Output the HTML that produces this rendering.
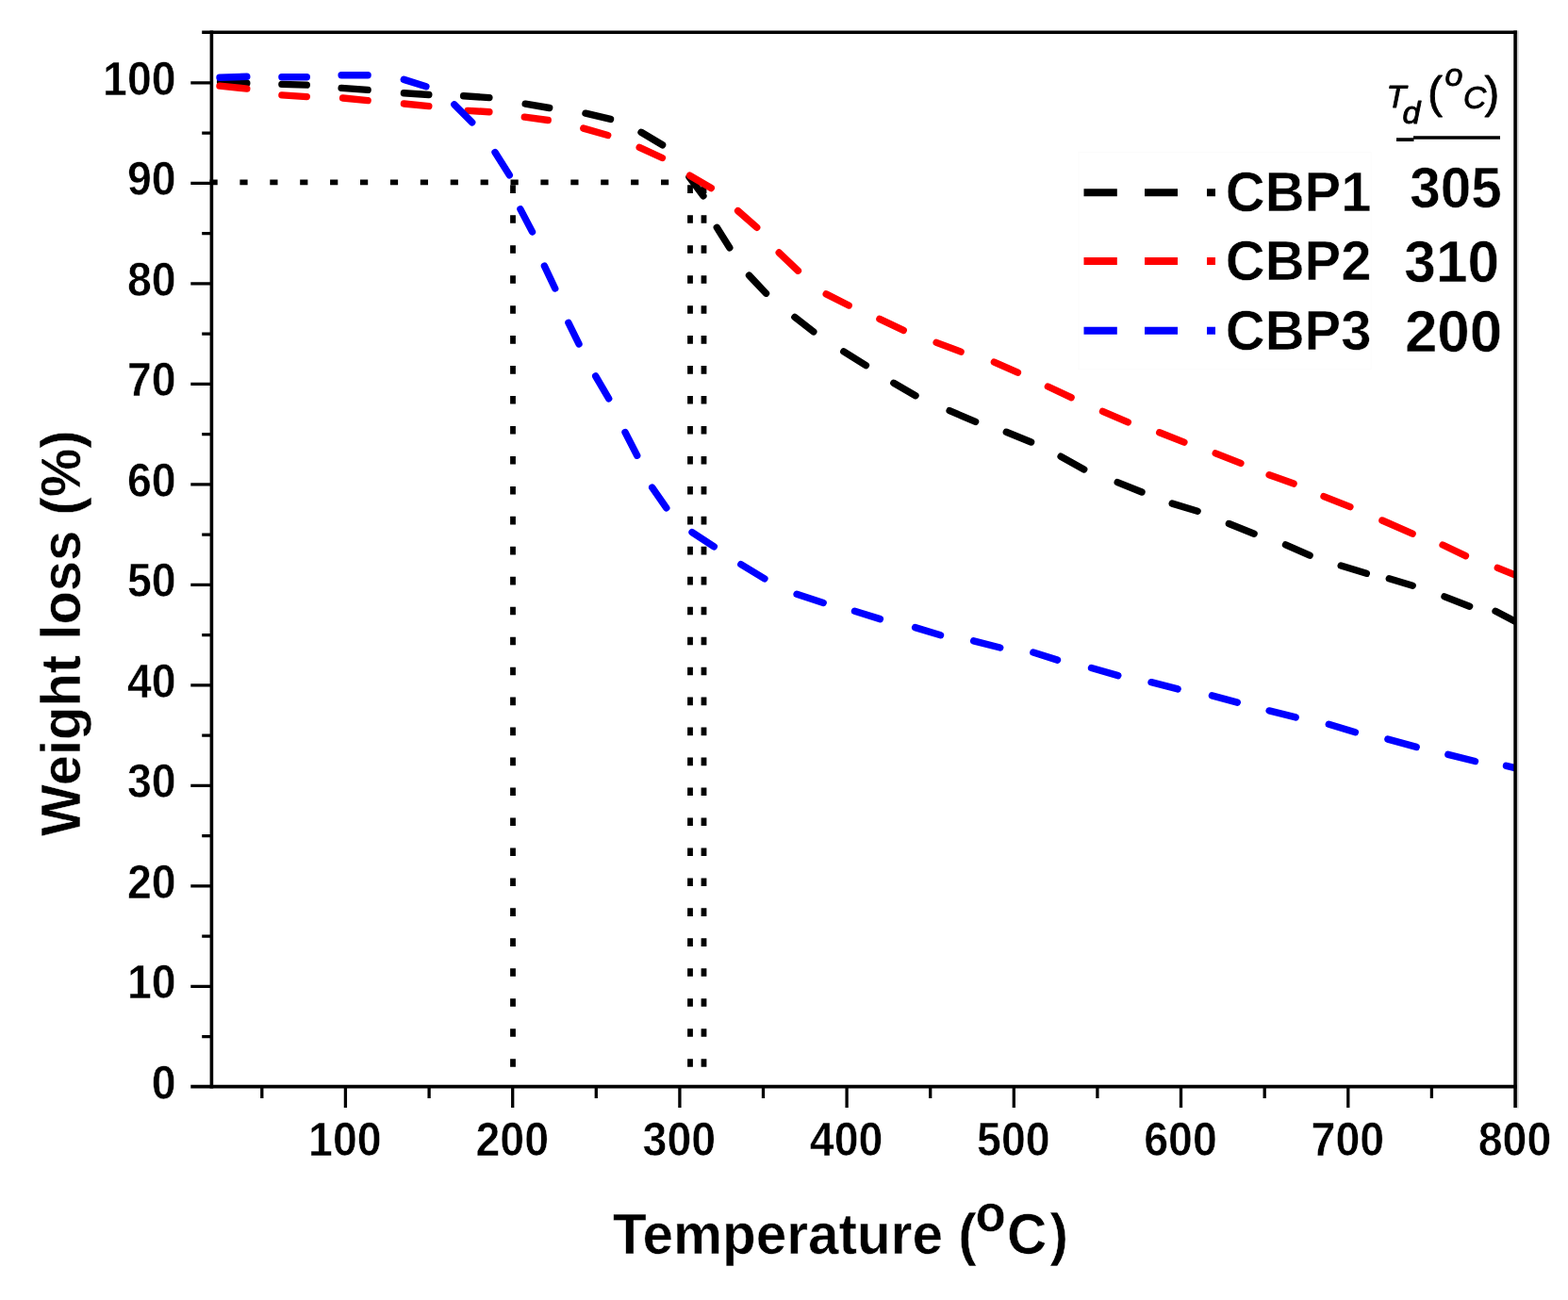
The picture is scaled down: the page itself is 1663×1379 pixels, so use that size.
<!DOCTYPE html>
<html lang="en">
<head>
<meta charset="utf-8">
<title>TGA curves</title>
<style>
html,body{margin:0;padding:0;background:#fff;}
body{width:1663px;height:1379px;overflow:hidden;}
svg{display:block;}
text{font-family:"Liberation Sans",sans-serif;fill:#000;font-weight:bold;stroke:#fff;stroke-width:0.5px;}
.hd text{font-style:italic;font-weight:normal;stroke:#000;stroke-width:0.9px;stroke-linejoin:round;}
.hd text.n{font-style:normal;}
</style>
</head>
<body>
<svg width="1663" height="1379" viewBox="0 0 1663 1379">
<rect x="0" y="0" width="1663" height="1379" fill="#fff"/>
<g stroke="#000" stroke-width="5.6" fill="none" stroke-dasharray="8.2 23.7">
<path d="M222.5 193.4H745"/>
</g>
<g stroke="#000" stroke-width="5.8" fill="none" stroke-dasharray="8.6 23.36">
<path d="M544.0 196.3V1150"/>
<path d="M732.0 196.3V1150"/>
<path d="M746.5 196.3V1150"/>
</g>
<clipPath id="plot"><rect x="224" y="34" width="1383" height="1119"/></clipPath>
<g clip-path="url(#plot)">
<path d="M233.6 86.9L261.8 88.3 M298.9 89.4L325.3 90.1 M362.1 93.4L390.1 95.4 M428.4 98.8L454.8 100.5 M491.6 101.8L518.9 103.6 M557.2 110.2L582.7 114.5 M621.0 120.2L647.5 126.4 M680.0 140.3L702.6 153.8 M731.0 187.9L745.9 207.8 M760.3 241.3L773.8 262.8 M794.5 292.1L812.5 311.2 M842.9 336.4L862.8 351.9 M894.8 372.9L918.4 387.6 M947.8 406.3L971.0 419.7 M1007.1 435.7L1034.6 447.3 M1067.3 458.3L1093.6 469.0 M1125.1 484.2L1149.7 497.9 M1185.2 511.6L1211.0 522.0 M1243.2 534.1L1270.1 542.2 M1303.4 555.5L1330.1 566.2 M1363.5 577.9L1389.1 589.2 M1422.2 600.0L1449.3 608.3 M1473.3 613.8L1498.2 621.3 M1532.0 632.9L1558.6 643.2 M1586.1 648.3L1607.9 659.6" stroke="#000" stroke-width="7.4" stroke-linecap="round" fill="none"/>
<path d="M233.0 91.1L261.8 94.1 M298.9 100.9L325.3 102.6 M363.6 104.0L390.1 106.6 M428.4 110.0L454.8 112.6 M496.1 117.4L518.9 118.7 M556.3 124.2L581.2 127.5 M618.8 136.1L644.7 143.5 M678.2 156.4L702.4 167.5 M731.6 186.2L754.3 199.5 M782.6 223.6L802.7 241.3 M826.2 268.0L846.4 287.2 M876.2 311.9L900.2 324.0 M932.9 338.3L958.2 350.3 M993.1 363.4L1019.1 373.1 M1054.4 384.1L1079.4 395.2 M1111.4 410.0L1136.1 421.6 M1169.5 436.4L1196.3 447.9 M1229.7 458.8L1255.9 469.1 M1289.2 480.9L1315.9 491.4 M1346.1 503.7L1372.1 513.1 M1404.0 526.6L1431.9 537.6 M1465.9 552.0L1498.1 566.2 M1530.1 578.0L1554.4 589.7 M1588.3 602.3L1607.9 610.4" stroke="#f00" stroke-width="7.4" stroke-linecap="round" fill="none"/>
<path d="M233.0 82.3L261.8 81.3 M298.9 81.8L325.3 81.8 M362.1 79.7L390.1 79.7 M428.3 84.4L451.9 91.8 M481.8 110.8L500.7 129.8 M525.0 161.6L540.3 185.8 M551.9 221.9L564.5 245.9 M577.4 282.2L588.7 306.0 M602.9 342.4L614.0 364.9 M631.7 399.0L645.7 422.8 M663.0 458.5L675.7 483.2 M691.7 517.1L706.8 538.8 M734.0 564.6L757.3 579.8 M785.8 598.6L810.9 613.8 M845.1 630.2L873.2 639.4 M906.5 648.2L933.4 656.6 M970.6 665.6L997.5 673.8 M1032.6 679.8L1060.7 687.0 M1095.8 692.0L1121.5 700.1 M1157.5 708.5L1185.8 716.6 M1221.0 723.7L1249.1 730.9 M1285.4 737.9L1312.3 745.1 M1346.1 753.9L1374.2 760.9 M1409.3 768.2L1437.4 776.7 M1471.9 784.1L1502.2 792.4 M1535.8 800.3L1564.5 807.5 M1597.5 812.3L1608.0 814.9" stroke="#00f" stroke-width="7.4" stroke-linecap="round" fill="none"/>
</g>
<path d="M1609.7 32.5V1175.5" stroke="#cfcfcf" stroke-width="2" fill="none"/>
<g stroke="#000" stroke-width="3.6" fill="none">
<path d="M224.4 32.5V1154.4"/>
<path d="M1607.1 32.5V1175.0"/>
<path d="M214.2 34.3H1608.9"/>
<path d="M202.3 1152.6H1608.9"/>
</g>
<g stroke="#000" stroke-width="3.3" fill="none">
<path d="M202.3 1046.3H224.4M202.3 939.8H224.4M202.3 833.3H224.4M202.3 726.8H224.4M202.3 620.4H224.4M202.3 513.9H224.4M202.3 407.4H224.4M202.3 300.9H224.4M202.3 194.4H224.4M202.3 87.9H224.4M214.2 1099.6H224.4M214.2 993.1H224.4M214.2 886.6H224.4M214.2 780.1H224.4M214.2 673.6H224.4M214.2 567.1H224.4M214.2 460.6H224.4M214.2 354.1H224.4M214.2 247.6H224.4M214.2 141.1H224.4M366.4 1152.6V1175M543.7 1152.6V1175M720.9 1152.6V1175M898.1 1152.6V1175M1075.3 1152.6V1175M1252.5 1152.6V1175M1429.8 1152.6V1175M277.8 1152.6V1165M455.1 1152.6V1165M632.3 1152.6V1165M809.5 1152.6V1165M986.7 1152.6V1165M1163.9 1152.6V1165M1341.2 1152.6V1165M1518.4 1152.6V1165"/>
</g>
<g>
<text transform="translate(186.6 1165.8) scale(1 1.070)" font-size="46.5" text-anchor="end">0</text>
<text transform="translate(186.6 1059.3) scale(1 1.070)" font-size="46.5" text-anchor="end">10</text>
<text transform="translate(186.6 952.8) scale(1 1.070)" font-size="46.5" text-anchor="end">20</text>
<text transform="translate(186.6 846.3) scale(1 1.070)" font-size="46.5" text-anchor="end">30</text>
<text transform="translate(186.6 739.8) scale(1 1.070)" font-size="46.5" text-anchor="end">40</text>
<text transform="translate(186.6 633.4) scale(1 1.070)" font-size="46.5" text-anchor="end">50</text>
<text transform="translate(186.6 526.9) scale(1 1.070)" font-size="46.5" text-anchor="end">60</text>
<text transform="translate(186.6 420.4) scale(1 1.070)" font-size="46.5" text-anchor="end">70</text>
<text transform="translate(186.6 313.9) scale(1 1.070)" font-size="46.5" text-anchor="end">80</text>
<text transform="translate(186.6 207.4) scale(1 1.070)" font-size="46.5" text-anchor="end">90</text>
<text transform="translate(186.6 100.9) scale(1 1.070)" font-size="46.5" text-anchor="end">100</text>
<text transform="translate(365.9 1226.4) scale(1 1.070)" font-size="46.5" text-anchor="middle">100</text>
<text transform="translate(543.2 1226.4) scale(1 1.070)" font-size="46.5" text-anchor="middle">200</text>
<text transform="translate(720.4 1226.4) scale(1 1.070)" font-size="46.5" text-anchor="middle">300</text>
<text transform="translate(897.6 1226.4) scale(1 1.070)" font-size="46.5" text-anchor="middle">400</text>
<text transform="translate(1074.8 1226.4) scale(1 1.070)" font-size="46.5" text-anchor="middle">500</text>
<text transform="translate(1252.0 1226.4) scale(1 1.070)" font-size="46.5" text-anchor="middle">600</text>
<text transform="translate(1429.3 1226.4) scale(1 1.070)" font-size="46.5" text-anchor="middle">700</text>
<text transform="translate(1606.5 1226.4) scale(1 1.070)" font-size="46.5" text-anchor="middle">800</text>
</g>
<text transform="translate(650 1330.4) scale(1 1.03)" font-size="58.5">Temperature (<tspan x="384.5" y="-23.3" font-size="53">o</tspan><tspan x="418" y="0">C</tspan><tspan x="463.5" y="0">)</tspan></text>
<text transform="translate(85.4 887.0) rotate(-90) scale(1 1.030)" font-size="58">Weight loss (%)</text>
<rect x="1144" y="161.5" width="310" height="230" fill="#fff" stroke="#fcfcfc" stroke-width="1"/>
<path d="M1149.5 204.3H1184.8M1214 204.3H1249M1280 204.3H1289" stroke="#000" stroke-width="8" fill="none"/>
<path d="M1149.5 277.0H1184.8M1214 277.0H1249M1280 277.0H1289" stroke="#f00" stroke-width="8" fill="none"/>
<path d="M1149.5 350.7H1184.8M1214 350.7H1249M1280 350.7H1289" stroke="#00f" stroke-width="8" fill="none"/>
<text transform="translate(1299.8 224.4) scale(1 1.020)" font-size="58">CBP1</text>
<text transform="translate(1299.8 296.5) scale(1 1.020)" font-size="58">CBP2</text>
<text transform="translate(1299.8 370.7) scale(1 1.020)" font-size="58">CBP3</text>
<text transform="translate(1592.8 220.4) scale(1 1.030)" font-size="58.5" text-anchor="end">305</text>
<text transform="translate(1590.2 298.5) scale(1 1.045)" font-size="60.5" text-anchor="end">310</text>
<text transform="translate(1593.3 372.8) scale(1 1.030)" font-size="62" text-anchor="end">200</text>
<g class="hd">
<text transform="translate(1470.5 114.2)" font-size="34">T<tspan x="16.9" y="16.4">d</tspan><tspan x="30.7" y="0.2" font-size="47" font-style="normal"> (</tspan><tspan x="61.9" y="-23.6">o</tspan><tspan x="81.5" y="0.4" font-size="33.5">C</tspan><tspan x="104.1" y="0.2" font-size="47" font-style="normal">)</tspan></text>
</g>
<path d="M1481 148.1H1499.5M1499 146H1591" stroke="#000" stroke-width="3.6" fill="none"/>
</svg>
</body>
</html>
